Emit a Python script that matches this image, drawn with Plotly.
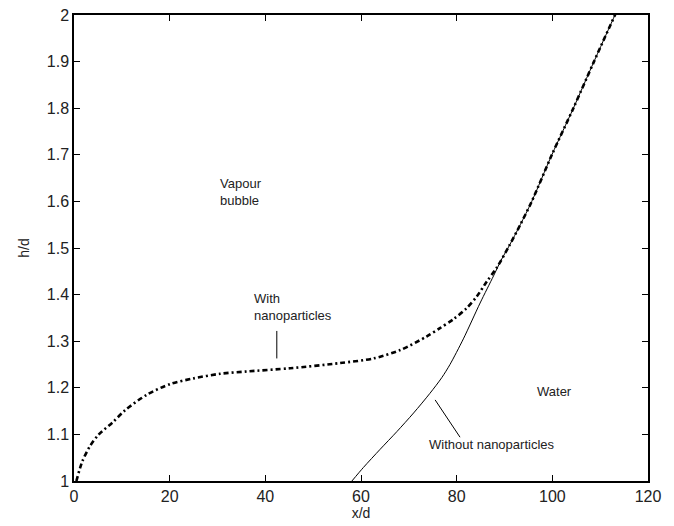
import plotly.graph_objects as go

# With nanoparticles (dash-dot curve)
with_x = [0.5, 1.7, 3.3, 5.1, 8.2, 10.7, 15.2, 20.1, 24.9, 30.5, 36.1, 45.2, 55.6,
          62.6, 68.2, 73.7, 76.5, 79.3, 82.0, 84.2, 86.3, 88.4, 91.0, 93.3, 95.7, 99.9,
          104.4, 108.7, 113.1, 113.6]
with_y = [1.0, 1.041, 1.074, 1.099, 1.127, 1.152, 1.185, 1.208, 1.220, 1.230, 1.235,
          1.242, 1.253, 1.263, 1.281, 1.310, 1.328, 1.347, 1.370, 1.396, 1.428, 1.458,
          1.505, 1.550, 1.600, 1.700, 1.800, 1.900, 2.000, 2.011]

# Without nanoparticles (solid curve)
without_x = [58.1, 60.5, 64.0, 67.5, 71.0, 74.4, 76.9, 78.6, 81.4, 84.9, 87.7, 89.3,
             91.0, 93.3, 95.7, 99.9, 104.4, 108.7, 113.1, 113.6]
without_y = [1.0, 1.029, 1.068, 1.106, 1.146, 1.188, 1.222, 1.250, 1.305, 1.382, 1.440,
             1.474, 1.505, 1.550, 1.600, 1.700, 1.800, 1.900, 2.000, 2.011]

x_ticks = [0, 20, 40, 60, 80, 100, 120]
y_ticks = [1, 1.1, 1.2, 1.3, 1.4, 1.5, 1.6, 1.7, 1.8, 1.9, 2]
y_ticktext = ["1", "1.1", "1.2", "1.3", "1.4", "1.5", "1.6", "1.7", "1.8", "1.9", "2"]

FONT = "Liberation Sans, Arial, sans-serif"

fig = go.Figure()
fig.add_trace(go.Scatter(x=without_x, y=without_y, mode="lines",
                         line=dict(color="black", width=1, shape="spline", smoothing=0.8),
                         showlegend=False))
fig.add_trace(go.Scatter(x=with_x, y=with_y, mode="lines",
                         line=dict(color="black", width=2.6, dash="5px,3px,2px,3px",
                                   shape="spline", smoothing=0.8),
                         showlegend=False))

labels = [
    dict(x=30.1, y=1.62, text="Vapour<br>bubble"),
    dict(x=37.2, y=1.373, text="With<br>nanoparticles"),
    dict(x=96.4, y=1.191, text="Water"),
    dict(x=73.8, y=1.079, text="Without nanoparticles"),
]
for a in labels:
    fig.add_annotation(x=a["x"], y=a["y"], text=a["text"], showarrow=False,
                       xanchor="left", yanchor="middle", align="left",
                       font=dict(family=FONT, size=13, color="#222"))

# leader lines
fig.add_shape(type="line", x0=42.4, y0=1.322, x1=42.4, y1=1.263,
              line=dict(color="black", width=1))
fig.add_shape(type="line", x0=75.5, y0=1.174, x1=80.7, y1=1.094,
              line=dict(color="black", width=1))

axis_common = dict(showline=True, linecolor="black", linewidth=1.5, mirror="ticks",
                   ticks="inside", ticklen=6, tickwidth=1.2, tickcolor="black",
                   showgrid=False, zeroline=False, automargin=False,
                   tickfont=dict(family=FONT, size=16, color="#222"))

fig.update_layout(
    width=674, height=526,
    margin=dict(l=74, r=26, t=15, b=45),
    paper_bgcolor="white", plot_bgcolor="white",
    xaxis=dict(range=[0, 120], tickvals=x_ticks,
               title=dict(text="x/d", font=dict(family=FONT, size=14, color="#222"),
                          standoff=4),
               **axis_common),
    yaxis=dict(range=[1, 2], tickvals=y_ticks, ticktext=y_ticktext,
               title=dict(text="h/d", font=dict(family=FONT, size=14, color="#222"),
                          standoff=14),
               **axis_common),
)

fig.write_html("out.html")
